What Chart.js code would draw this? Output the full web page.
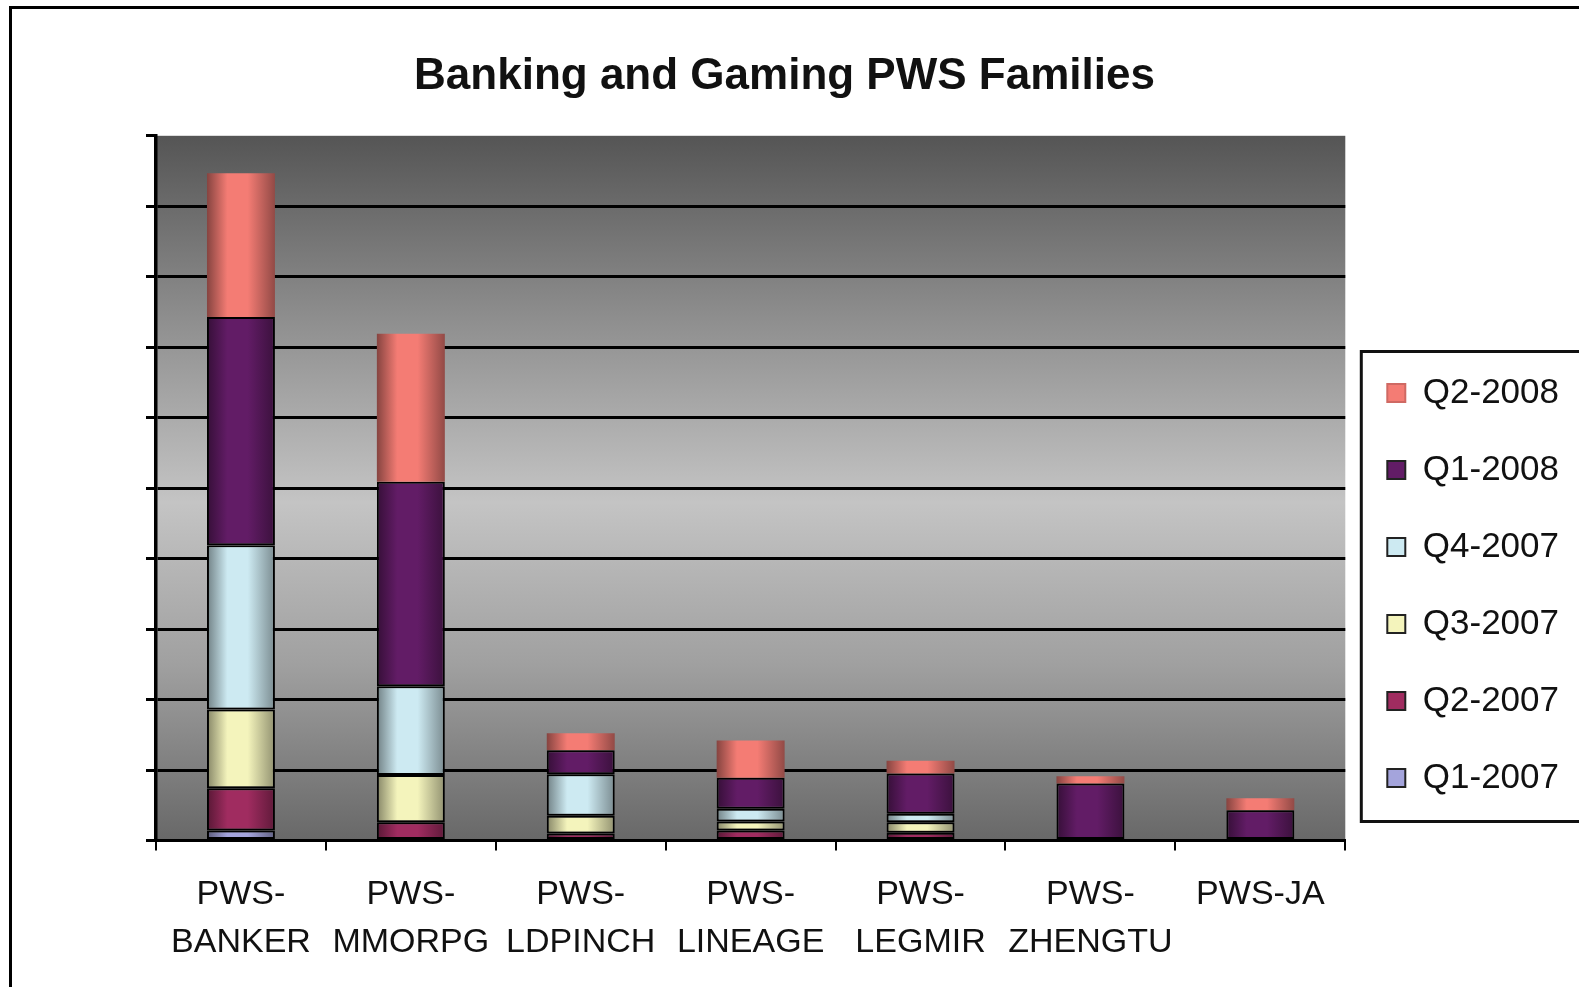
<!DOCTYPE html>
<html>
<head>
<meta charset="utf-8">
<script src="https://cdn.jsdelivr.net/npm/chart.js@4.4.1/dist/chart.umd.min.js"></script>
<style>
  html, body { margin: 0; padding: 0; background: #fff; overflow: hidden; }
  #frame { position: absolute; left: 9px; top: 6px; width: 1620px; height: 1020px;
           border-left: 3px solid #000; border-top: 3px solid #000; }
  #c { position: absolute; left: 0; top: 0; }
</style>
</head>
<body>
<div id="frame"></div>
<canvas id="c" width="1579" height="987"></canvas>
<script>
// categories (multi-line labels as on the x axis)
const categories = [
  ["PWS-", "BANKER"], ["PWS-", "MMORPG"], ["PWS-", "LDPINCH"], ["PWS-", "LINEAGE"],
  ["PWS-", "LEGMIR"], ["PWS-", "ZHENGTU"], "PWS-JA"
];

// series, bottom of the stack first
const seriesNames = ["Q1-2007", "Q2-2007", "Q3-2007", "Q4-2007", "Q1-2008", "Q2-2008"];
const q1_2007 = [0.14, 0, 0, 0, 0, 0, 0];
const q2_2007 = [0.60, 0.26, 0.10, 0.14, 0.11, 0, 0];
const q3_2007 = [1.12, 0.67, 0.25, 0.13, 0.15, 0, 0];
const q4_2007 = [2.33, 1.26, 0.59, 0.18, 0.12, 0, 0];
const q1_2008 = [3.24, 2.90, 0.34, 0.44, 0.57, 0.81, 0.43];
const q2_2008 = [2.04, 2.10, 0.24, 0.53, 0.18, 0.10, 0.17];
const seriesData = [q1_2007, q2_2007, q3_2007, q4_2007, q1_2008, q2_2008];

// y axis has no labels, just 10 equal steps
const yMin = 0;
const yMax = 10;
const yStep = 1;

const seriesColors = ["#a4a4dc", "#a02c60", "#f4f4bc", "#cdeaf2", "#621c66", "#f47c74"];
const FONT = '"Liberation Sans", Arial, sans-serif';

function shade(hex, f) {
  const n = parseInt(hex.slice(1), 16);
  const r = Math.round(((n >> 16) & 255) * f);
  const g = Math.round(((n >> 8) & 255) * f);
  const b = Math.round((n & 255) * f);
  return `rgb(${r},${g},${b})`;
}

// horizontal "cylinder" shading on each bar
function barFill(color) {
  return (ctx) => {
    const chart = ctx.chart;
    if (ctx.type !== "data" || !chart.chartArea) return color;
    const xs = chart.scales.x;
    const cx = xs.getPixelForValue(ctx.dataIndex);
    const half = xs.width / categories.length * 0.4 / 2;
    const g = chart.ctx.createLinearGradient(cx - half, 0, cx + half, 0);
    g.addColorStop(0, shade(color, 0.55));
    g.addColorStop(0.3, color);
    g.addColorStop(0.6, color);
    g.addColorStop(1, shade(color, 0.6));
    return g;
  };
}

// grey gradient behind the plot
const plotBackground = {
  id: "plotBackground",
  beforeDraw(chart) {
    const { ctx, chartArea: a } = chart;
    if (!a) return;
    const g = ctx.createLinearGradient(0, a.top, 0, a.bottom);
    g.addColorStop(0, "#555555");
    g.addColorStop(0.25, "#8c8c8c");
    g.addColorStop(0.52, "#c4c4c4");
    g.addColorStop(0.75, "#a0a0a0");
    g.addColorStop(1, "#686868");
    ctx.save();
    ctx.fillStyle = g;
    ctx.fillRect(a.left, a.top, a.width, a.height);
    ctx.restore();
  }
};

// box round the legend
const legendFrame = {
  id: "legendFrame",
  afterDraw(chart) {
    const lg = chart.legend;
    const hb = lg && lg.legendHitBoxes;
    if (!hb || !hb.length) return;
    const top = Math.min(...hb.map(h => h.top)) - 24;
    const bottom = Math.max(...hb.map(h => h.top + h.height)) + 26;
    const ctx = chart.ctx;
    ctx.save();
    ctx.strokeStyle = "#111";
    ctx.lineWidth = 3;
    ctx.strokeRect(lg.left + 16, top, chart.width, bottom - top);
    ctx.restore();
  }
};

new Chart(document.getElementById("c"), {
  type: "bar",
  data: {
    labels: categories,
    datasets: seriesNames.map((name, i) => ({
      label: name,
      data: seriesData[i],
      backgroundColor: barFill(seriesColors[i]),
      borderColor: i === 5 ? shade(seriesColors[i], 0.85) : "#000",
      borderWidth: i === 5 ? 0 : 2,
      borderSkipped: false
    }))
  },
  options: {
    responsive: false,
    animation: false,
    layout: { padding: { left: 0, right: 10, top: 0, bottom: 0 } },
    datasets: { bar: { categoryPercentage: 1, barPercentage: 0.4 } },
    plugins: {
      title: {
        display: true,
        text: "Banking and Gaming PWS Families",
        color: "#111",
        font: { family: FONT, size: 44, weight: "bold", lineHeight: 1.2 },
        padding: { top: 50, bottom: 33 }
      },
      legend: {
        position: "right",
        reverse: true,
        title: { display: true, text: " ", font: { size: 10, lineHeight: 1.2 }, padding: { top: 172, bottom: 0 } },
        labels: {
          boxWidth: 18,
          boxHeight: 18,
          padding: 42,
          color: "#111",
          font: { family: FONT, size: 35 },
          generateLabels(chart) {
            const items = Chart.defaults.plugins.legend.labels.generateLabels(chart);
            items.forEach(it => {
              it.fillStyle = seriesColors[it.datasetIndex];
              it.strokeStyle = it.datasetIndex === 5 ? shade(seriesColors[5], 0.85) : "#222";
              it.lineWidth = 2;
            });
            return items;
          }
        }
      },
      tooltip: { enabled: false }
    },
    scales: {
      x: {
        stacked: true,
        grid: { display: true, drawOnChartArea: false, drawTicks: true, tickLength: 10,
                color: "#000", lineWidth: 2, offset: true },
        border: { color: "#000", width: 3 },
        ticks: {
          color: "#111", autoSkip: false, maxRotation: 0, padding: 21,
          font: { family: FONT, size: 34, lineHeight: 1.39 }
        }
      },
      y: {
        stacked: true,
        min: yMin,
        max: yMax,
        afterFit(scale) { scale.width = 156; },
        ticks: { display: false, stepSize: yStep },
        grid: {
          color: c => (c.tick && c.tick.value === yMax) ? "rgba(0,0,0,0)" : "#000",
          tickColor: "#000",
          lineWidth: 3,
          tickLength: 10
        },
        border: { color: "#000", width: 3.5 }
      }
    }
  },
  plugins: [plotBackground, legendFrame]
});
</script>
</body>
</html>
